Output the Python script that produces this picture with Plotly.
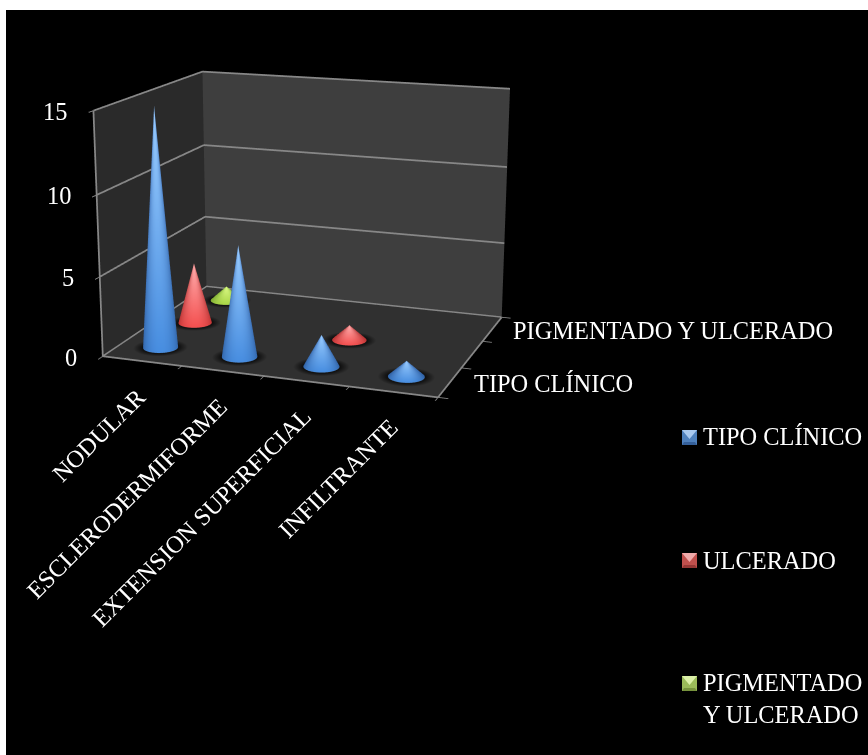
import numpy as np
import plotly.graph_objects as go

W, H = 868, 755
FH, OFF = 1300, 371   # figure taller than the window and shifted up, which gives the scene a long lens
VW = 612.0
categories = ["NODULAR", "ESCLERODERMIFORME", "EXTENSION SUPERFICIAL", "INFILTRANTE"]
series_names = ["TIPO CLÍNICO", "ULCERADO", "PIGMENTADO Y ULCERADO"]
tipo_clinico = [15, 7, 2, 1]
ulcerado = [4, 0, 1, 0]
pigmentado = [1, 0, 0, 0]
z_ticks = [0, 5, 10, 15]
FONT = "Liberation Serif"
def PX(x): return x/W
def PY(y): return 1-(y+OFF)/FH

eye = np.array([2.107, -5.905, 1.566])
center = np.array([0.007, -0.067, -0.233])
ax, ay, az, ux = 1.4, 1.059, 1.003, -0.0011

RX = 0.205
RY = RX*(ax/4)/(ay/3)
palette = {
    0: ((48,98,165),(72,142,225),(75,125,195),(155,205,255)),
    1: ((185,50,50),(245,80,80),(195,85,85),(255,175,175)),
    2: ((125,170,50),(170,215,70),(150,195,70),(220,250,135)),
}
def rgb(c): return "rgb(%d,%d,%d)" % tuple(int(v) for v in c)
def cone(xc, yc, h, pal, name, n=72):
    xs, ys, zs, cols, I, J, K = [], [], [], [], [], [], []
    ang = np.linspace(0, 2*np.pi, n+1)
    vx = (eye[0]-(xc/4-.5)*ax); vy = (eye[1]-(yc/3-.5)*ay)
    vn = np.hypot(vx,vy); vx/=vn; vy/=vn
    for a, b in zip(ang[:-1], ang[1:]):
        i0 = len(xs)
        for th in (a, b):
            t = max(0, np.cos(th)*vx+np.sin(th)*vy)**1.2
            xs.append(xc+RX*np.cos(th)); ys.append(yc+RY*np.sin(th)); zs.append(0.03)
            cols.append(rgb(np.array(pal[0])+(np.array(pal[1])-np.array(pal[0]))*t))
        t = max(0, np.cos((a+b)/2)*vx+np.sin((a+b)/2)*vy)**1.2
        xs.append(xc); ys.append(yc); zs.append(h)
        cols.append(rgb(np.array(pal[2])+(np.array(pal[3])-np.array(pal[2]))*t))
        I.append(i0); J.append(i0+1); K.append(i0+2)
    return go.Mesh3d(x=xs,y=ys,z=zs,i=I,j=J,k=K,vertexcolor=cols,flatshading=False,name=name,showscale=False,
        lighting=dict(ambient=1,diffuse=0,specular=0,roughness=1,fresnel=0),hoverinfo="skip")
def shadow(xc, yc, n=48):
    ang = np.linspace(0,2*np.pi,n,endpoint=False)
    xs=list(xc+RX*np.cos(ang))+list(xc+1.55*RX*np.cos(ang))
    ys=list(yc+RY*np.sin(ang))+list(yc+1.55*RY*np.sin(ang))
    zs=[0.015]*(2*n)
    cols=["rgb(14,14,14)"]*n+["rgb(48,48,48)"]*n
    I,J,K=[],[],[]
    for i in range(n):
        j=(i+1)%n
        I+= [i,j]; J+=[j,n+j]; K+=[n+i,n+i]
    return go.Mesh3d(x=xs,y=ys,z=zs,i=I,j=J,k=K,vertexcolor=cols,lighting=dict(ambient=1,diffuse=0,specular=0,fresnel=0),hoverinfo="skip",showscale=False)

fig = go.Figure()
for s, vals in enumerate([tipo_clinico, ulcerado, pigmentado]):
    for c, v in enumerate(vals):
        if v > 0:
            fig.add_trace(shadow(c+.5, s+.5))
            fig.add_trace(cone(c+.5, s+.5, v, palette[s], series_names[s]))

# wall gridlines and floor edges
line = "rgb(135,135,135)"
gx, gy, gz = [], [], []
for v in z_ticks:
    gx += [0,0,4,None]; gy += [0,3,3,None]; gz += [v,v,v,None]
gx += [0,4,4,None,0,0]; gy += [0,0,3,None,0,0]; gz += [0,0,0,None,0,z_ticks[-1]]
fig.add_trace(go.Scatter3d(x=gx,y=gy,z=gz,mode="lines",line=dict(color=line,width=3.5),hoverinfo="skip",connectgaps=False))

txt = dict(color="white", family=FONT, size=24.4)
ann = []
for c, name in enumerate(categories):
    ann.append(dict(x=c+.5,y=0,z=0,text=name,textangle=-45,showarrow=False,xanchor="right",yanchor="top",font=txt,yshift=-19,xshift=12))
for s, sh in ((0,22),(2,19)):
    ann.append(dict(x=4,y=s+.5,z=0,text=series_names[s],showarrow=False,xanchor="left",yanchor="middle",font=txt,xshift=sh,yshift=-1))
for v in z_ticks:
    ann.append(dict(x=0,y=0,z=v,text=str(v),showarrow=False,xanchor="right",yanchor="middle",font=txt,xshift=-24,yshift=-1))

def axis(rng, ticks, bg):
    return dict(range=rng, tickvals=ticks, showticklabels=False, ticks="outside", ticklen=8, tickcolor=line, tickwidth=2,
                showline=False, showgrid=False, zeroline=False, showbackground=True, backgroundcolor=bg,
                showspikes=False, title=dict(text=""), autorange=False)

shapes = [dict(type="rect",xref="paper",yref="paper",x0=PX(6),x1=1,y0=PY(755),y1=PY(10),fillcolor="black",line=dict(width=0),layer="below")]
legend_cols = [("#4f81bd","#a9c9ef","#35609a"),("#c0504d","#f0aaaa","#953735"),("#9bbb59","#dcf0a8","#76923c")]
legend_y = [430,553,676]
legend_cy = [437,560,667]
legend_text = ["TIPO CLÍNICO","ULCERADO","PIGMENTADO<br>Y ULCERADO"]
annotations = []
for (col,light,dark),y0,cy,t in zip(legend_cols,legend_y,legend_cy,legend_text):
    x0=682;s=15
    shapes.append(dict(type="rect",xref="paper",yref="paper",x0=PX(x0),x1=PX(x0+s),y0=PY(y0),y1=PY(y0+s),fillcolor=col,line=dict(width=0)))
    shapes.append(dict(type="path",xref="paper",yref="paper",fillcolor=light,line=dict(width=0),
        path="M %f %f L %f %f L %f %f Z"%(PX(x0),PY(y0),PX(x0+s),PY(y0),PX(x0+s/2),PY(y0+s*0.6))))
    shapes.append(dict(type="path",xref="paper",yref="paper",fillcolor=dark,line=dict(width=0),
        path="M %f %f L %f %f L %f %f L %f %f Z"%(PX(x0),PY(y0+s),PX(x0+s),PY(y0+s),PX(x0+s-2),PY(y0+s-3),PX(x0+2),PY(y0+s-3))))
    annotations.append(dict(x=PX(701),y=PY(cy),xref="paper",yref="paper",text=t,showarrow=False,xanchor="left",
        yanchor="top" if "<br>" in t else "middle",align="left",font=txt))

fig.update_layout(width=W,height=FH,autosize=False,margin=dict(l=0,r=0,t=0,b=0),paper_bgcolor="white",showlegend=False,
    shapes=shapes,annotations=annotations,
    scene=dict(domain=dict(x=[0,VW/W],y=[0,1]),bgcolor="rgba(0,0,0,0)",aspectmode="manual",aspectratio=dict(x=ax,y=ay,z=az),
        camera=dict(eye=dict(x=eye[0],y=eye[1],z=eye[2]),center=dict(x=center[0],y=center[1],z=center[2]),up=dict(x=ux,y=0,z=1),projection=dict(type="perspective")),
        xaxis=axis([0,4],[0,1,2,3,4],"rgb(42,42,42)"),yaxis=axis([0,3],[0,1,2,3],"rgb(62,62,62)"),
        zaxis=axis([0,15],z_ticks,"rgb(48,48,48)"),annotations=ann))
fig.write_html("out.html",config=dict(displayModeBar=False),
  post_script="document.documentElement.style.overflow='hidden';document.body.style.overflow='hidden';document.body.style.margin='0';var g=document.getElementsByClassName('plotly-graph-div')[0];g.style.position='absolute';g.style.left='0';g.style.top='-%dpx';"%OFF)
